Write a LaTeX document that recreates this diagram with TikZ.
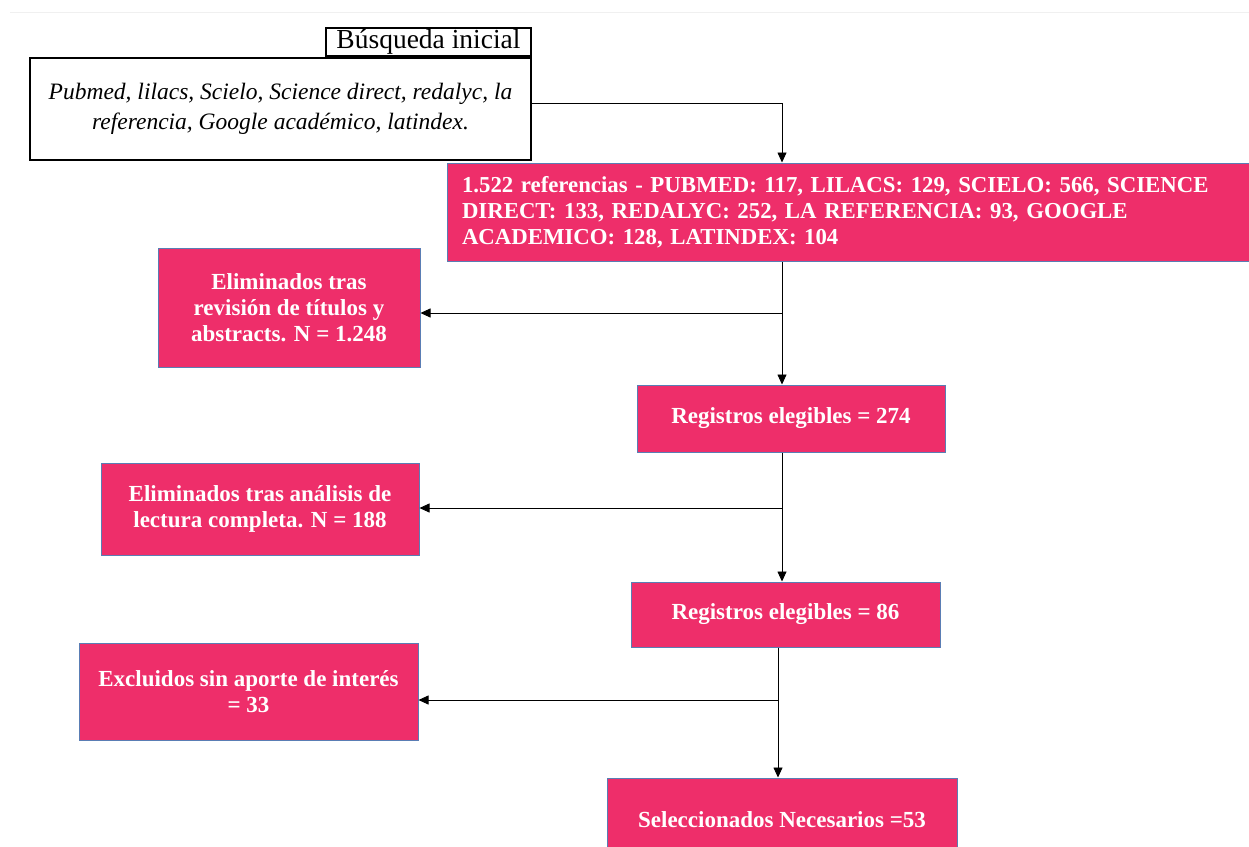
\documentclass[tikz,border=0pt]{standalone}
\usepackage{fontspec}
\setmainfont{Liberation Serif}
\usetikzlibrary{arrows.meta}
\definecolor{pinkbox}{RGB}{238,46,106}
\definecolor{bluebord}{RGB}{90,125,180}
\tikzset{
  pbox/.style={draw=bluebord, line width=1pt, fill=pinkbox, text=white,
    font=\fontsize{23}{26}\selectfont\bfseries, align=center, inner sep=4pt},
  wbox/.style={draw=black, line width=2.2pt, fill=white, align=center},
  arr/.style={draw=black, line width=0.8pt, -{Triangle[length=10pt,width=9pt]}}
}
\begin{document}
\begin{tikzpicture}[x=1pt,y=-1pt]
\clip (0,0) rectangle (1249,846);
\fill[white] (0,0) rectangle (1249,846);
\draw[black!6, line width=1pt] (10,12) -- (1249,12);

% source boxes
\node[wbox, minimum width=501pt, minimum height=102pt,
  font=\fontsize{23.5}{30}\selectfont\itshape] (src) at (280.5,109)
  {Pubmed, lilacs, Scielo, Science direct, redalyc, la\\referencia, Google académico, latindex.};
\node[wbox, minimum width=205pt, minimum height=28pt, inner sep=0pt,
  font=\fontsize{27.5}{28}\selectfont, anchor=south east] (lab) at (src.north east)
  {\hspace*{4pt}Búsqueda inicial\hspace*{4pt}};

% pink boxes
\node[pbox, minimum width=802pt, minimum height=98pt, text width=772pt, align=left,
  font=\fontsize{22.8}{26}\selectfont\bfseries] (ref) at (848,212)
  {1.522 referencias - PUBMED: 117, LILACS: 129, SCIELO: 566, SCIENCE\\DIRECT: 133, REDALYC: 252, LA REFERENCIA: 93, GOOGLE\\ACADEMICO: 128, LATINDEX: 104};
\node[pbox, minimum width=262pt, minimum height=119pt] (el1) at (289,307.5)
  {Eliminados tras\\revisión de títulos y\\abstracts. N = 1.248};
\node[pbox, minimum width=308pt, minimum height=67pt] (r1) at (791,418.5)
  {Registros elegibles = 274};
\node[pbox, minimum width=318pt, minimum height=92pt] (el2) at (260,509)
  {Eliminados tras análisis de\\lectura completa. N = 188};
\node[pbox, minimum width=309pt, minimum height=65pt] (r2) at (785.5,614.5)
  {Registros elegibles = 86};
\node[pbox, minimum width=339pt, minimum height=97pt] (ex) at (248.5,691.5)
  {Excluidos sin aporte de interés\\= 33};
\node[pbox, minimum width=350pt, minimum height=84pt] (sel) at (782,820)
  {Seleccionados Necesarios =53};

% connectors
\coordinate (j0) at (782,103);
\coordinate (b1) at (782,313);
\coordinate (b2) at (782,508);
\coordinate (b3) at (778,700);

\draw[arr] (j0 -| src.east) -- (j0) -- (j0 |- ref.north);
\draw[arr] (b1 |- ref.south) -- (b1 |- r1.north);
\draw[arr] (b1) -- (el1.east |- b1);
\draw[arr] (b2 |- r1.south) -- (b2 |- r2.north);
\draw[arr] (b2) -- (el2.east |- b2);
\draw[arr] (b3 |- r2.south) -- (b3 |- sel.north);
\draw[arr] (b3) -- (ex.east |- b3);
\end{tikzpicture}
\end{document}
